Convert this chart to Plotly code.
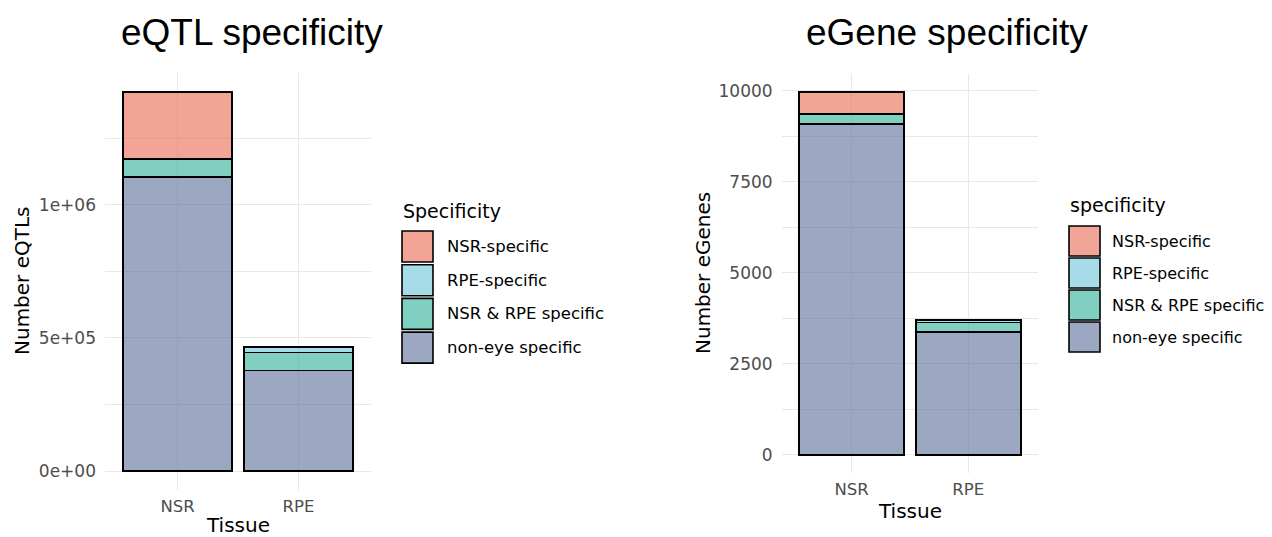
import plotly.graph_objects as go

# ---- data ----
tissues = ["NSR", "RPE"]
specificity_levels = ["NSR-specific", "RPE-specific", "NSR & RPE specific", "non-eye specific"]

# eQTL counts per tissue
eqtl_non_eye = [1104000, 378000]
eqtl_shared = [68000, 68000]
eqtl_rpe_only = [0, 19000]
eqtl_nsr_only = [252000, 0]

# eGene counts per tissue
egene_non_eye = [9090, 3380]
egene_shared = [265, 250]
egene_rpe_only = [0, 70]
egene_nsr_only = [605, 0]

eqtl_tickvals = [0, 500000, 1000000]
eqtl_ticktext = ["0e+00", "5e+05", "1e+06"]
egene_tickvals = [0, 2500, 5000, 7500, 10000]
egene_ticktext = ["0", "2500", "5000", "7500", "10000"]

# ---- styling ----
W, H = 1272, 537
fills = {
    "NSR-specific": "rgba(233,103,82,0.6)",
    "RPE-specific": "rgba(107,197,217,0.6)",
    "NSR & RPE specific": "rgba(43,175,150,0.6)",
    "non-eye specific": "rgba(90,108,153,0.6)",
}
GRID = "#E8E8E8"
TICK_COLOR = "#4D4D4D"
AX_FONT = "DejaVu Sans"
TITLE_FONT = "Liberation Sans, Arial"


def px(x):
    return x / W


def py(y):
    return 1 - y / H


fig = go.Figure()

# stacking order: first trace sits at the bottom
eqtl_series = [
    ("non-eye specific", eqtl_non_eye),
    ("NSR & RPE specific", eqtl_shared),
    ("RPE-specific", eqtl_rpe_only),
    ("NSR-specific", eqtl_nsr_only),
]
egene_series = [
    ("non-eye specific", egene_non_eye),
    ("NSR & RPE specific", egene_shared),
    ("RPE-specific", egene_rpe_only),
    ("NSR-specific", egene_nsr_only),
]

for name, vals in eqtl_series:
    fig.add_trace(go.Bar(
        x=tissues, y=vals, name=name, xaxis="x", yaxis="y", width=0.9,
        marker=dict(color=fills[name], line=dict(color="black", width=1.6)),
        showlegend=False,
    ))
for name, vals in egene_series:
    fig.add_trace(go.Bar(
        x=tissues, y=vals, name=name, xaxis="x2", yaxis="y2", width=0.9,
        marker=dict(color=fills[name], line=dict(color="black", width=1.6)),
        showlegend=False,
    ))

common_x = dict(
    type="category", range=[-0.6, 1.6], showgrid=True, gridcolor=GRID, gridwidth=1.3,
    zeroline=False, showline=False, ticks="", ticklabelstandoff=4,
    tickfont=dict(family=AX_FONT, size=16.5, color=TICK_COLOR),
)
common_y = dict(
    showgrid=True, gridcolor=GRID, gridwidth=1.3, zeroline=False, showline=False,
    ticks="", ticklabelstandoff=8, tickmode="array",
    tickfont=dict(family=AX_FONT, size=17, color=TICK_COLOR),
)

eqtl_total = max(a + b + c + d for a, b, c, d in zip(eqtl_non_eye, eqtl_shared, eqtl_rpe_only, eqtl_nsr_only))
egene_total = max(a + b + c + d for a, b, c, d in zip(egene_non_eye, egene_shared, egene_rpe_only, egene_nsr_only))

fig.update_layout(
    width=W, height=H, margin=dict(l=0, r=0, t=0, b=0),
    paper_bgcolor="white", plot_bgcolor="white",
    barmode="stack", bargap=0.1, showlegend=False,
    xaxis=dict(common_x, domain=[px(105), px(371)], anchor="y"),
    yaxis=dict(common_y, domain=[py(490), py(73)], anchor="x",
               range=[-0.05 * eqtl_total, 1.05 * eqtl_total],
               tickvals=eqtl_tickvals, ticktext=eqtl_ticktext,
               minor=dict(dtick=250000, tick0=0, showgrid=True, gridcolor=GRID, gridwidth=0.9)),
    xaxis2=dict(common_x, domain=[px(781.6), px(1038.3)], anchor="y2"),
    yaxis2=dict(common_y, domain=[py(473), py(74)], anchor="x2",
                range=[-0.05 * egene_total, 1.05 * egene_total],
                tickvals=egene_tickvals, ticktext=egene_ticktext,
                minor=dict(dtick=1250, tick0=0, showgrid=True, gridcolor=GRID, gridwidth=0.9)),
)

annotations = []
shapes = []


def text(x, y, s, size, family=AX_FONT, color="black", xanchor="center", angle=0):
    annotations.append(dict(
        x=px(x), y=py(y), xref="paper", yref="paper", text=s, showarrow=False,
        xanchor=xanchor, yanchor="middle", textangle=angle, borderpad=0,
        font=dict(family=family, size=size, color=color),
    ))


# panel titles
text(252, 33, "eQTL specificity", 37, family=TITLE_FONT)
text(947, 33, "eGene specificity", 37, family=TITLE_FONT)

# axis titles
text(238, 525, "Tissue", 20)
text(22, 281, "Number eQTLs", 20, angle=-90)
text(910, 511, "Tissue", 20)
text(703, 273, "Number eGenes", 20, angle=-90)


def legend(x0, title_y, key_top, pitch, key_w, key_h, label_x, title, font_size, title_size):
    text(x0, title_y, title, title_size, xanchor="left")
    for i, name in enumerate(specificity_levels):
        top = key_top + i * pitch
        shapes.append(dict(
            type="rect", xref="paper", yref="paper",
            x0=px(x0), x1=px(x0 + key_w), y0=py(top + key_h), y1=py(top),
            fillcolor=fills[name], line=dict(color="black", width=1.6),
        ))
        text(label_x, top + key_h / 2, name, font_size, xanchor="left")


legend(402, 211, 231, 33.7, 31, 31, 446, "Specificity", 16.5, 19)
legend(1069, 205, 226, 32, 31, 30, 1111, "specificity", 16, 19)

fig.update_layout(annotations=annotations, shapes=shapes)

fig.write_html("out.html")
